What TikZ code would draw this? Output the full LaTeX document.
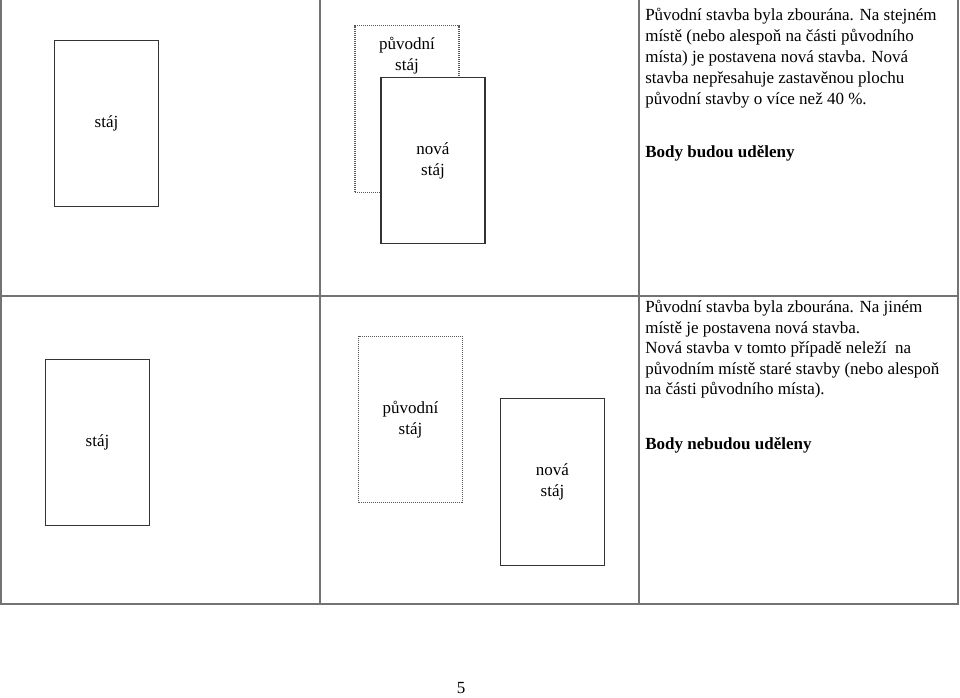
\documentclass[tikz,border=0pt]{standalone}
\usepackage{fontspec}
\setmainfont{Liberation Serif}
\usetikzlibrary{positioning}

\tikzset{
	stajbox/.style={draw=black!80, line width=0.8pt, fill=white, minimum width=78pt, minimum height=125pt, inner sep=0pt, align=center},
	oldbox/.style={stajbox, draw=black!65, dash pattern=on 0.75pt off 0.75pt},
	tabulka/.style={draw=black!55, line width=1pt},
	popis/.style={anchor=north west, inner sep=0pt, align=left},
}

\begin{document}
\begin{tikzpicture}[x=0.75pt,y=-0.75pt,font=\fontsize{12.75}{15.75}\selectfont]
	\useasboundingbox (0,0) rectangle (960,697);
	% tabulka
	\draw[tabulka] (1,0) -- (1,604) -- (958,604) -- (958,0);
	\draw[tabulka] (1,296) -- (958,296);
	\draw[tabulka] (320,0) -- (320,604);
	\draw[tabulka] (639,0) -- (639,604);

	% horni radek
	\node[stajbox] (staj1) at (106.5,123.5) {stáj};
	\node[oldbox] (puvodni1) at (407,109) {};
	\node[below=9pt of puvodni1.north, inner sep=0pt, align=center] (puvodni1text) {původní\\stáj};
	\node[stajbox] (nova1) at (433,160.5) {nová\\stáj};
	\node[popis] (text1) at (645,7.5) {Původní stavba byla zbourána. Na stejném\\
		místě (nebo alespoň na části původního\\
		místa) je postavena nová stavba. Nová\\
		stavba nepřesahuje zastavěnou plochu\\
		původní stavby o více než 40~\%.};
	\node[popis] (body1) at (645,145) {\textbf{Body budou uděleny}};

	% dolni radek
	\node[stajbox] (staj2) at (97.5,442.5) {stáj};
	\node[oldbox] (puvodni2) at (410.5,419.5) {původní\\stáj};
	\node[stajbox] (nova2) at (552.5,482) {nová\\stáj};
	\node[popis] (text2) at (645,300) {Původní stavba byla zbourána. Na jiném\\[-0.3pt]
		místě je postavena nová stavba.\\[-0.3pt]
		Nová stavba v tomto případě neleží \ na\\[-0.3pt]
		původním místě staré stavby (nebo alespoň\\[-0.3pt]
		na části původního místa).};
	\node[popis] (body2) at (645,437) {\textbf{Body nebudou uděleny}};

	\node (strana) at (461,688) {5};
\end{tikzpicture}
\end{document}
